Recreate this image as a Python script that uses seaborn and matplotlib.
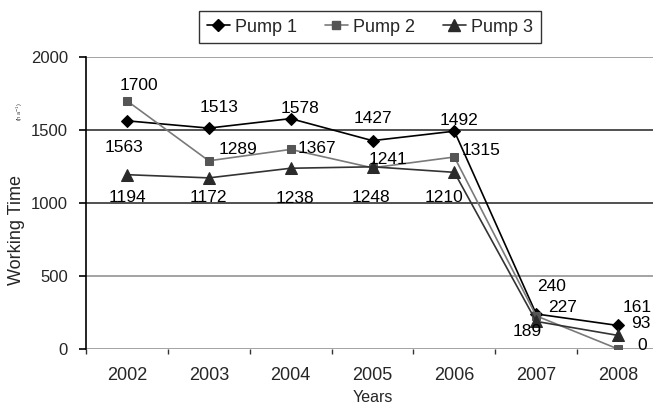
import matplotlib
matplotlib.use("Agg")
import matplotlib.pyplot as plt
import seaborn as sns
import pandas as pd
from matplotlib.lines import Line2D
from matplotlib.ticker import FixedLocator

years = ["2002", "2003", "2004", "2005", "2006", "2007", "2008"]
pump1 = [1563, 1513, 1578, 1427, 1492, 240, 161]
pump2 = [1700, 1289, 1367, 1241, 1315, 227, 0]
pump3 = [1194, 1172, 1238, 1248, 1210, 189, 93]
series_names = ["Pump 1", "Pump 2", "Pump 3"]

# label offsets (pixels, screen: +x right, +y down)
off1 = [(-3, 27), (10, -21), (9, -10), (0, -22), (5, -11), (15, -27), (19, -18)]
off2 = [(12, -15), (29, -11), (26, -1), (16, -8), (27, -7), (26, -8), (24, -4)]
off3 = [(1, 23), (0, 20), (4, 30), (-2, 31), (-10, 25), (-9, 10), (23, -12)]

sns.set_style("white")
plt.rcParams["font.family"] = ["Liberation Sans", "DejaVu Sans"]

W, H = 653, 412
fig = plt.figure(figsize=(W / 100, H / 100), dpi=100)
ax = fig.add_axes([86 / W, (H - 349) / H, 573 / W, 292 / H])

styles = [
    dict(line="#000000", mk="#000000", marker="D", ms=6.5),
    dict(line="#7a7a7a", mk="#555555", marker="s", ms=6),
    dict(line="#333333", mk="#2a2a2a", marker="^", ms=8),
]
data = [pump1, pump2, pump3]
offs = [off1, off2, off3]

for name, vals, st in zip(series_names, data, styles):
    df = pd.DataFrame({"Year": years, "Value": vals})
    sns.lineplot(data=df, x="Year", y="Value", ax=ax, color=st["line"], lw=1.2,
                 marker=st["marker"], markersize=st["ms"], markerfacecolor=st["mk"],
                 markeredgecolor=st["mk"], sort=False, legend=False)

for vals, off in zip(data, offs):
    for i, (v, (dx, dy)) in enumerate(zip(vals, off)):
        ax.annotate(str(v), (i, v), xytext=(dx, -dy), textcoords="offset pixels",
                    ha="center", va="center", fontsize=12.5, color="#000000")

ax.set_xlim(-0.5, 6.5)
ax.set_ylim(0, 2000)
ax.set_yticks([0, 500, 1000, 1500, 2000])
ax.set_xticks(range(len(years)))
ax.set_xticklabels(years)
ax.xaxis.set_minor_locator(FixedLocator([i + 0.5 for i in range(-1, 7)]))
ax.tick_params(axis="x", which="major", length=0, pad=13, labelsize=13)
ax.tick_params(axis="x", which="minor", length=3.5, width=1, color="#333333", direction="out", bottom=True)
ax.tick_params(axis="y", which="major", length=5, width=1.2, color="#000000", direction="out",
               left=True, pad=8, labelsize=12)

ax.set_axisbelow(True)
ax.yaxis.grid(True, lw=1.1)
gcolors = ["#8a8a8a", "#8a8a8a", "#222222", "#222222", "#8a8a8a"]
for gl, c in zip(ax.get_ygridlines(), gcolors):
    gl.set_color(c)

for s in ["top", "right"]:
    ax.spines[s].set_visible(False)
ax.spines["bottom"].set_visible(False)
ax.spines["left"].set_color("#000000")
ax.spines["left"].set_linewidth(1.2)

ax.set_xlabel("Years", fontsize=11.5, labelpad=4)
ax.set_ylabel("")
fig.text(17 / W, 1 - 230 / H, "Working Time", rotation=90, ha="center", va="center", fontsize=13)
fig.text(20 / W, 1 - 112 / H, "(h a$^{-1}$)", rotation=90, ha="center", va="center", fontsize=4, color="#333333")

handles = [Line2D([0], [0], color=st["line"], lw=1.2, marker=st["marker"], markersize=st["ms"],
                  markerfacecolor=st["mk"], markeredgecolor=st["mk"]) for st in styles]
leg = fig.legend(handles, series_names, loc="center", bbox_to_anchor=(370 / W, 1 - 27 / H), ncol=3,
                 frameon=True, fancybox=False, fontsize=13, handlelength=1.3, handletextpad=0.3,
                 columnspacing=1.5, borderpad=0.4, borderaxespad=0, edgecolor="#000000")
leg.get_frame().set_linewidth(1.0)

fig.savefig("out.png", dpi=100)
